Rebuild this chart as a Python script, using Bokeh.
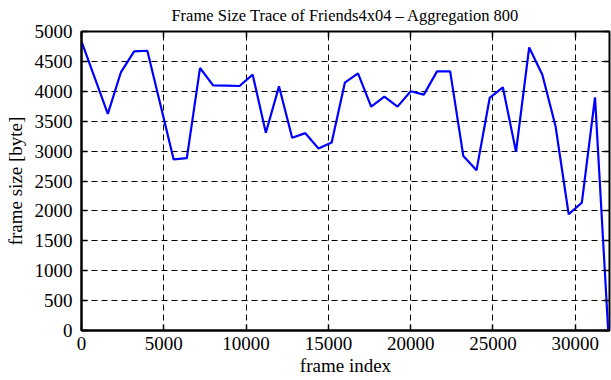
from bokeh.plotting import figure
from bokeh.models import Range1d, LinearAxis, FixedTicker, ColumnDataSource
from bokeh.embed import file_html
from bokeh.resources import INLINE

frame_index = [0, 800, 1600, 2400, 3200, 4000, 4800, 5600, 6400, 7200,
               8000, 8800, 9600, 10400, 11200, 12000, 12800, 13600, 14400, 15200,
               16000, 16800, 17600, 18400, 19200, 20000, 20800, 21600, 22400, 23200,
               24000, 24800, 25600, 26400, 27200, 28000, 28800, 29600, 30400, 31200,
               32000]
frame_size = [4833, 4230, 3622, 4322, 4667, 4678, 3770, 2861, 2883, 4389,
              4100, 4095, 4089, 4278, 3306, 4083, 3222, 3300, 3044, 3144,
              4144, 4300, 3744, 3911, 3744, 4000, 3944, 4333, 4333, 2917,
              2678, 3889, 4067, 2989, 4733, 4278, 3420, 1944, 2139, 3900,
              0]
x_ticks = [0, 5000, 10000, 15000, 20000, 25000, 30000]
y_ticks = [0, 500, 1000, 1500, 2000, 2500, 3000, 3500, 4000, 4500, 5000]

FONT = "Liberation Serif"

src = ColumnDataSource(dict(x=frame_index, y=frame_size))

p = figure(width=611, height=380, output_backend="svg", toolbar_location=None,
           x_range=Range1d(0, 32080), y_range=Range1d(0, 5000),
           title="Frame Size Trace of Friends4x04 \u2013 Aggregation 800",
           min_border_left=81, min_border_right=2, min_border_top=30, min_border_bottom=50)

p.title.text_font = FONT
p.title.text_font_size = "16.5px"
p.title.text_font_style = "normal"
p.title.text_color = "black"
p.title.align = "center"
p.title.vertical_align = "top"
p.title.offset = 0
p.title.standoff = 10

p.line("x", "y", source=src, line_color="#0000ff", line_width=2.2)

p.outline_line_color = "black"
p.outline_line_width = 2
p.background_fill_color = "white"
p.border_fill_color = "white"

for ax in (p.xaxis[0], p.yaxis[0]):
    ax.major_tick_in = 6
    ax.major_tick_out = 0
    ax.minor_tick_line_color = None
    ax.axis_line_color = "black"
    ax.axis_line_width = 2
    ax.major_tick_line_color = "black"
    ax.major_tick_line_width = 1.5
    ax.major_label_text_font = FONT
    ax.major_label_text_font_size = "19px"
    ax.major_label_text_color = "black"
    ax.axis_label_text_font = FONT
    ax.axis_label_text_font_size = "19px"
    ax.axis_label_text_font_style = "normal"
    ax.axis_label_text_color = "black"

p.xaxis[0].ticker = FixedTicker(ticks=x_ticks)
p.yaxis[0].ticker = FixedTicker(ticks=y_ticks)
p.xaxis[0].axis_label = "frame index"
p.yaxis[0].axis_label = "frame size [byte]"
p.xaxis[0].major_label_standoff = 6
p.yaxis[0].major_label_standoff = 9
p.xaxis[0].axis_label_standoff = 2
p.yaxis[0].axis_label_standoff = 6

# mirror ticks on top and right (no labels)
for loc, tk in (("above", x_ticks), ("right", y_ticks)):
    ax = LinearAxis(ticker=FixedTicker(ticks=tk))
    ax.major_tick_in = 6
    ax.major_tick_out = 0
    ax.minor_tick_line_color = None
    ax.major_tick_line_color = "black"
    ax.major_tick_line_width = 1.5
    ax.axis_line_color = None
    ax.major_label_overrides = {t: "" for t in tk}
    ax.major_label_standoff = 0
    p.add_layout(ax, loc)

p.xgrid.ticker = FixedTicker(ticks=x_ticks)
p.ygrid.ticker = FixedTicker(ticks=y_ticks)
for g in (p.xgrid[0], p.ygrid[0]):
    g.grid_line_color = "black"
    g.grid_line_dash = "6 4"
    g.grid_line_width = 1

open("out.html", "w").write(file_html(p, INLINE))
